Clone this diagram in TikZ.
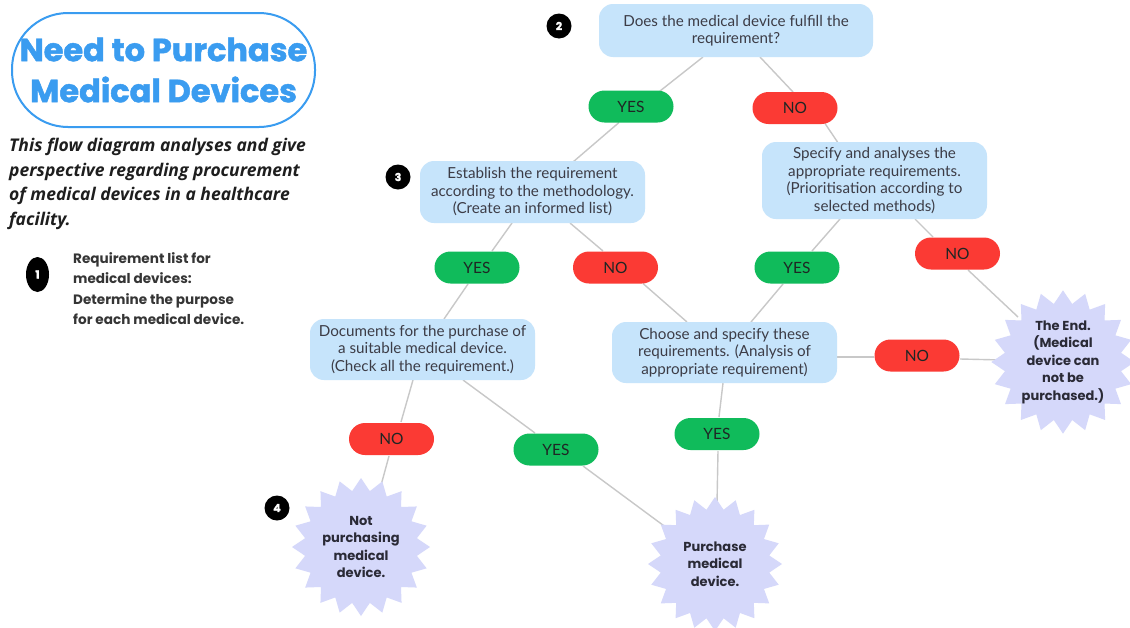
\documentclass[tikz,border=0pt]{standalone}
\usepackage{fontspec}
\setmainfont{Lato}
\newfontfamily\headfont{Poppins}[BoldFeatures={FakeBold=1.5}]
\newfontfamily\descfont{Open Sans}
\newfontfamily\itemfont{Poppins}
\usetikzlibrary{shapes.geometric,calc,backgrounds}

\definecolor{titleblue}{HTML}{3A9CF0}
\definecolor{boxblue}{HTML}{C6E4FB}
\definecolor{boxtext}{HTML}{3C3C46}
\definecolor{yesgreen}{HTML}{10BB5B}
\definecolor{nored}{HTML}{FB3A34}
\definecolor{pilltext}{HTML}{1F2624}
\definecolor{burstfill}{HTML}{D5D8FA}
\definecolor{bursttext}{HTML}{2A2A36}
\definecolor{linkgray}{HTML}{C8C8C8}
\definecolor{desctext}{HTML}{1E1E1E}

\begin{document}
\begin{tikzpicture}[x=1pt,y=-1pt,
  link/.style={draw=linkgray, line width=1.4pt},
  titlebox/.style={draw=titleblue, line width=2pt, rounded corners=56pt,
    minimum width=303pt, minimum height=114pt, inner sep=0pt, align=center,
    text=titleblue, font=\headfont\bfseries\fontsize{32}{41}\selectfont},
  desc/.style={inner sep=0pt, align=left, text=desctext,
    font=\descfont\bfseries\itshape\fontsize{17.5}{24.5}\selectfont},
  item/.style={inner sep=0pt, align=left, text=desctext!90,
    font=\itemfont\bfseries\fontsize{13.6}{20.6}\selectfont},
  numdot/.style={circle, fill=black, text=white, inner sep=0pt,
    minimum size=25pt, font=\headfont\bfseries\fontsize{11}{11}\selectfont},
  stepbox/.style={fill=boxblue, rounded corners=14pt, minimum width=225pt,
    minimum height=61pt, inner sep=0pt, align=center, text=boxtext,
    font=\fontsize{15.2}{17.5}\selectfont},
  pill/.style={rounded corners=16pt, minimum width=85pt, minimum height=32pt,
    inner sep=0pt, text=pilltext, font=\fontsize{15.5}{18}\selectfont},
  yespill/.style={pill, fill=yesgreen},
  nopill/.style={pill, fill=nored},
  burst/.style={star, star points=20, star point ratio=1.22, fill=burstfill,
    inner sep=0pt, minimum size=138pt, align=center, text=bursttext,
    font=\itemfont\bfseries\fontsize{13}{17.5}\selectfont}
]
\useasboundingbox (0,0) rectangle (1130,627);

% heading, description and the first step
\node[titlebox] (title) at (163.5,70) {Need to Purchase\\Medical Devices};
\node[desc, anchor=north west] (desc) at (9,138)
  {This flow diagram analyses and give\\perspective regarding procurement\\of medical devices in a healthcare\\facility.};
\node[numdot, ellipse, minimum width=23pt, minimum height=35pt] (n1) at (37.5,274.5) {1};
\node[item, anchor=north west] (list) at (73,252)
  {Requirement list for\\medical devices:\\Determine the purpose\\for each medical device.};

% step markers
\node[numdot] (n2) at (559,26) {2};
\node[numdot] (n3) at (398,177) {3};
\node[numdot] (n4) at (277,508) {4};

% process boxes
\node[stepbox, minimum width=274pt, minimum height=53pt] (q1) at (736,30.5)
  {Does the medical device fulfill the\\requirement?};
\node[stepbox, minimum height=62pt] (est) at (532.5,192)
  {Establish the requirement\\according to the methodology.\\(Create an informed list)};
\node[stepbox, minimum height=77pt] (spec) at (874.5,180.5)
  {Specify and analyses the\\appropriate requirements.\\(Prioritisation according to\\selected methods)};
\node[stepbox] (doc) at (422.5,349.5)
  {Documents for the purchase of\\a suitable medical device.\\(Check all the requirement.)};
\node[stepbox] (choose) at (724.5,352.5)
  {Choose and specify these\\requirements. (Analysis of\\appropriate requirement)};

% decisions
\node[yespill] (yes1) at (631,106.5) {YES};
\node[nopill]  (no1)  at (795,108) {NO};
\node[yespill] (yes2) at (477,267.5) {YES};
\node[nopill]  (no2)  at (615.5,267.5) {NO};
\node[yespill] (yes3) at (797,267.5) {YES};
\node[nopill]  (no3)  at (957.5,253.5) {NO};
\node[nopill]  (no4)  at (917,355.5) {NO};
\node[nopill]  (no5)  at (391.5,439) {NO};
\node[yespill] (yes5) at (556,449.5) {YES};
\node[yespill] (yes6) at (717,434) {YES};

% outcomes
\node[burst, minimum size=140pt] (theend) at (1063,362)
  {The End.\\(Medical\\device can\\not be\\purchased.)};
\node[burst] (notbuy) at (361,547) {Not\\purchasing\\medical\\device.};
\node[burst, minimum size=134pt] (buy) at (715,564) {Purchase\\medical\\device.};

% connectors
\begin{pgfonlayer}{background}
\fill[white] (0,0) rectangle (1130,627);
\draw[link] ($(q1)+(-33,26.5)$) -- ($(yes1)+(29,-15.5)$);
\draw[link] ($(q1)+(24,26.5)$) -- ($(no1)+(-2,-16)$);
\draw[link] ($(yes1)+(-12,16)$) -- ($(est)+(40.5,-30)$);
\draw[link] ($(no1)+(30,15.5)$) -- ($(spec)+(-37,-38.5)$);
\draw[link] ($(est)+(-20.5,31)$) -- ($(yes2)+(15,-16.5)$);
\draw[link] ($(est)+(37.5,31)$) -- ($(no2)+(-12.5,-16.5)$);
\draw[link] ($(yes2)+(-9,16.5)$) -- ($(doc)+(21.5,-30.5)$);
\draw[link] ($(no2)+(27.5,16)$) -- ($(choose)+(-37.5,-30.5)$);
\draw[link] ($(spec)+(-34.5,38.5)$) -- ($(yes3)+(15,-16.5)$);
\draw[link] ($(yes3)+(-14,16.5)$) -- ($(choose)+(26.5,-30.5)$);
\draw[link] ($(spec)+(40.5,38.5)$) -- ($(no3)+(-24.5,-16.5)$);
\draw[link] ($(no3)+(10.5,16.5)$) -- ($(theend)+(-45,-45)$);
\draw[link] ($(choose)+(112.5,4.5)$) -- ($(no4)+(-43,1.5)$);
\draw[link] ($(no4)+(43,3.5)$) -- ($(theend)+(-60,-2)$);
\draw[link] ($(choose)+(-1.5,30.5)$) -- ($(yes6)+(2,-17)$);
\draw[link] ($(yes6)+(1,17)$) -- ($(buy)+(2,-60)$);
\draw[link] ($(doc)+(-9.5,30.5)$) -- ($(no5)+(9.5,-17)$);
\draw[link] ($(no5)+(-2.5,17)$) -- ($(notbuy)+(19,-58)$);
\draw[link] ($(doc)+(40.5,30.5)$) -- ($(yes5)+(-21,-16.5)$);
\draw[link] ($(yes5)+(27,16.5)$) -- ($(buy)+(-40,-30)$);
\end{pgfonlayer}
\end{tikzpicture}
\end{document}
